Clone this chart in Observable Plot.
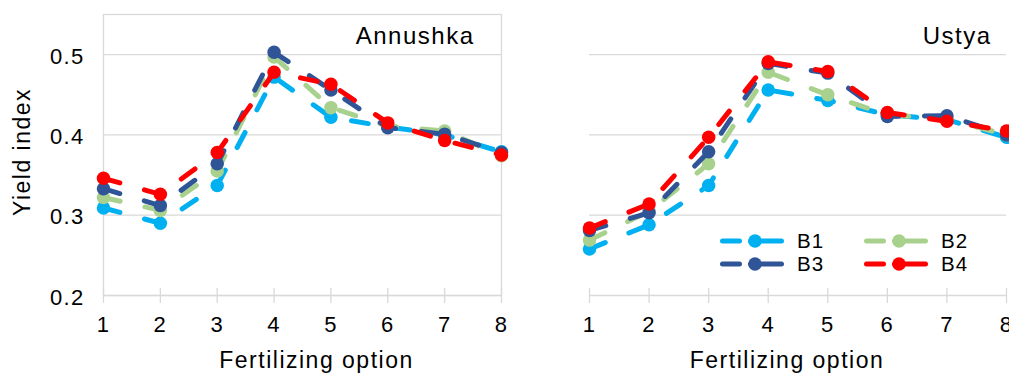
<!DOCTYPE html>
<html><head><meta charset="utf-8">
<script src="https://cdn.jsdelivr.net/npm/d3@7"></script>
<script src="https://cdn.jsdelivr.net/npm/@observablehq/plot@0.6"></script>
<style>
body{margin:0;background:#fff;}
#wrap{position:relative;width:1009px;height:373px;overflow:hidden;font-family:"Liberation Sans",Arial,sans-serif;}
#left,#right{position:absolute;top:0;}
#left{left:0;} #right{left:520px;}
.leg{position:absolute;display:flex;align-items:center;height:22px;line-height:22px;font-size:20.5px;letter-spacing:1px;color:#000;}
.leg svg{display:block;margin-right:13px;}
.tick text{letter-spacing:1.3px;}
.ttl text{letter-spacing:1.5px;}
</style></head><body>
<div id="wrap"><div id="left"></div><div id="right"></div><div id="legend"></div></div>
<script>
// ---- data ----
const options = [1, 2, 3, 4, 5, 6, 7, 8];
const seriesNames = ["B1", "B2", "B3", "B4"];
const seriesColors = ["#00B0F0", "#A9D18E", "#2F5597", "#FF0000"];
const yTicks = [0.2, 0.3, 0.4, 0.5];
const gridTicks = [0.3, 0.4, 0.5];
const varieties = ["Annushka", "Ustya"];
const xTitle = "Fertilizing option";
const yTitle = "Yield index";

const annushkaB1 = [0.309, 0.290, 0.337, 0.472, 0.422, 0.410, 0.400, 0.379];
const annushkaB2 = [0.322, 0.306, 0.355, 0.497, 0.434, 0.411, 0.405, 0.374];
const annushkaB3 = [0.333, 0.312, 0.364, 0.503, 0.456, 0.409, 0.401, 0.378];
const annushkaB4 = [0.346, 0.326, 0.378, 0.478, 0.463, 0.415, 0.393, 0.375];

const ustyaB1 = [0.258, 0.288, 0.337, 0.456, 0.443, 0.425, 0.419, 0.397];
const ustyaB2 = [0.269, 0.305, 0.364, 0.478, 0.450, 0.425, 0.420, 0.400];
const ustyaB3 = [0.281, 0.303, 0.379, 0.489, 0.477, 0.423, 0.424, 0.400];
const ustyaB4 = [0.284, 0.314, 0.397, 0.491, 0.479, 0.428, 0.417, 0.405];

// ---- build tables ----
function rowsFor(seriesArrays) {
  const out = [];
  seriesNames.forEach((s, i) => options.forEach((o, j) => out.push({option: o, value: seriesArrays[i][j], series: s})));
  return out;
}
const annushkaRows = rowsFor([annushkaB1, annushkaB2, annushkaB3, annushkaB4]);
const ustyaRows = rowsFor([ustyaB1, ustyaB2, ustyaB3, ustyaB4]);

const GRID = "#d9d9d9";
const FONT = '"Liberation Sans", Arial, sans-serif';

function panel({rows, title, width, marginLeft, marginRight, showY, frame, titleDx, xTitleDx}) {
  const marks = [];
  if (frame) marks.push(Plot.frame({stroke: GRID, strokeWidth: 1.3}));
  marks.push(Plot.gridY(gridTicks, {stroke: GRID, strokeOpacity: 1, strokeWidth: 1.3}));
  marks.push(Plot.ruleY([yTicks[0]], {stroke: GRID, strokeWidth: 1.3}));
  marks.push(Plot.axisX(options, {tickSize: 15, dy: -7, tickFormat: () => "", stroke: GRID, strokeWidth: 1.3, label: null}));
  marks.push(Plot.text(options, {x: d => d, frameAnchor: "bottom", textAnchor: "middle", lineAnchor: "top", dy: 21, fontSize: 22, text: d3.format("d"), className: "tick"}));
  if (showY) {
    marks.push(Plot.text(yTicks, {y: d => d, frameAnchor: "left", textAnchor: "end", dx: -19, dy: 2, fontSize: 22, text: d3.format(".1f"), className: "tick"}));
    marks.push(Plot.text([yTitle], {frameAnchor: "left", textAnchor: "middle", rotate: -90, dx: -81, dy: -3, fontSize: 23, lineAnchor: "middle", className: "ttl"}));
  }
  seriesNames.forEach(s => {
    const d = rows.filter(r => r.series === s);
    marks.push(Plot.line(d, {x: "option", y: "value", stroke: "series", strokeWidth: 5, strokeDasharray: "17,25.5", strokeLinecap: "round"}));
    marks.push(Plot.dot(d, {x: "option", y: "value", fill: "series", r: 6.75}));
  });
  marks.push(Plot.text([title], {frameAnchor: "top-right", textAnchor: "end", lineAnchor: "top", dx: titleDx, dy: 12, fontSize: 24, className: "ttl"}));
  marks.push(Plot.text([xTitle], {frameAnchor: "bottom", textAnchor: "middle", lineAnchor: "top", dx: xTitleDx, dy: 56, fontSize: 23, className: "ttl"}));
  return Plot.plot({
    width, height: 373,
    marginTop: 14, marginBottom: 78, marginLeft, marginRight,
    style: {fontFamily: FONT, color: "#000", background: "transparent", overflow: "hidden"},
    x: {domain: [1, 8], axis: null},
    y: {domain: [0.2, 0.55], axis: null},
    color: {domain: seriesNames, range: seriesColors},
    marks
  });
}

document.getElementById("left").append(panel({
  rows: annushkaRows, title: varieties[0], width: 520, marginLeft: 103, marginRight: 19,
  showY: true, frame: true, titleDx: -27, xTitleDx: 14
}));
document.getElementById("right").append(panel({
  rows: ustyaRows, title: varieties[1], width: 489, marginLeft: 69, marginRight: 3,
  showY: false, frame: false, titleDx: -15, xTitleDx: -11
}));

// ---- legend ----
const legend = document.getElementById("legend");
const legendCols = [720, 864], legendRows = [230, 253];
seriesNames.forEach((s, i) => {
  const item = document.createElement("div");
  item.className = "leg";
  item.style.left = legendCols[i % 2] + "px";
  item.style.top = legendRows[Math.floor(i / 2)] + "px";
  const c = seriesColors[i];
  item.innerHTML = `<svg width="64" height="22"><path d="M2.5,11H19.5M30.5,11H61.5" stroke="${c}" stroke-width="5" stroke-linecap="round" fill="none"/><circle cx="35" cy="11" r="6.75" fill="${c}"/></svg><span>${s}</span>`;
  legend.append(item);
});
</script>
</body></html>
